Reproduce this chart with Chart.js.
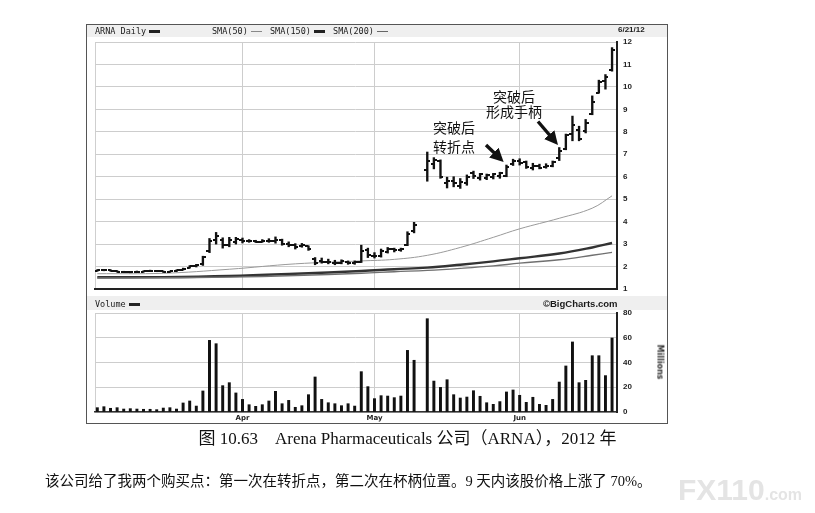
<!DOCTYPE html>
<html><head><meta charset="utf-8">
<script src="https://cdn.jsdelivr.net/npm/chart.js@4.4.1/dist/chart.umd.min.js"></script>
<style>
html,body{margin:0;padding:0;background:#fff;}
#wrap{position:relative;width:815px;height:513px;overflow:hidden;}
canvas{position:absolute;left:0;top:0;}
.t{position:absolute;white-space:nowrap;color:#1a1a1a;line-height:1;}
.mono{font-family:"DejaVu Sans Mono",monospace;font-size:8.5px;}
.dash{display:inline-block;width:11px;vertical-align:middle;background:#222;margin:0 3px;}
.ann{font-family:"Noto Sans CJK SC",sans-serif;font-size:14px;color:#111;}
</style></head><body>
<div id="wrap">
  <div style="position:absolute;left:86px;top:24px;width:580px;height:398px;border:1px solid #555;"></div>
  <div style="position:absolute;left:87px;top:25px;width:580px;height:12px;background:#efefef;"></div>
  <div style="position:absolute;left:87px;top:296px;width:580px;height:14px;background:#efefef;"></div>
  <div style="position:absolute;left:95px;top:42px;width:0;height:247px;border-left:1px solid #cfcfcf;"></div>
  <div style="position:absolute;left:95px;top:313px;width:0;height:99px;border-left:1px solid #cfcfcf;"></div>
  <canvas id="price" width="815" height="513"></canvas>
  <canvas id="vol" width="815" height="513"></canvas>

  <div class="t mono" style="left:95px;top:27px;">ARNA Daily<span class="dash" style="height:2.5px"></span></div>
  <div class="t mono" style="left:212px;top:27px;">SMA(50)<span class="dash" style="height:1px;background:#888"></span> SMA(150)<span class="dash" style="height:2.5px"></span> SMA(200)<span class="dash" style="height:1.5px;background:#666"></span></div>
  <div class="t" style="left:618px;top:26px;font-family:'Liberation Sans',sans-serif;font-weight:bold;font-size:8px;">6/21/12</div>
  <div class="t mono" style="left:95px;top:300px;">Volume<span class="dash" style="height:2.5px"></span></div>
  <div class="t" style="left:543px;top:299px;font-family:'Liberation Sans',sans-serif;font-weight:bold;font-size:9.5px;">©BigCharts.com</div>
  <div class="t" style="left:642px;top:358px;font-family:'DejaVu Sans',sans-serif;font-weight:bold;font-size:8px;color:#333;transform:rotate(90deg);">Millions</div>

  <div class="t ann" style="left:433px;top:120px;">突破后</div>
  <div class="t ann" style="left:433px;top:139px;">转折点</div>
  <div class="t ann" style="left:493px;top:89px;">突破后</div>
  <div class="t ann" style="left:486px;top:104px;">形成手柄</div>
  <svg style="position:absolute;left:0;top:0" width="815" height="513">
    <defs><marker id="ah" markerWidth="4" markerHeight="4" refX="1.5" refY="2" orient="auto" markerUnits="strokeWidth"><path d="M0,0 L4,2 L0,4 z" fill="#111"/></marker></defs>
    <line x1="486" y1="145" x2="497.5" y2="156" stroke="#111" stroke-width="3.4" marker-end="url(#ah)"/>
    <line x1="538" y1="121.5" x2="552.5" y2="138.5" stroke="#111" stroke-width="3.4" marker-end="url(#ah)"/>
  </svg>

  <div class="t" style="left:0;width:815px;text-align:center;top:430px;font-family:'Liberation Serif','Noto Sans CJK SC',serif;font-size:17px;color:#111;">图 10.63&nbsp;&nbsp;&nbsp;&nbsp;Arena Pharmaceuticals 公司（ARNA），2012 年</div>
  <div class="t" style="left:45px;top:474px;font-family:'Liberation Serif','Noto Sans CJK SC',serif;font-size:14.5px;color:#111;">该公司给了我两个购买点：第一次在转折点，第二次在杯柄位置。9 天内该股价格上涨了 70%。</div>
  <div class="t" style="left:678px;top:475px;font-family:'Liberation Sans',sans-serif;font-weight:bold;color:#e4e4e4;"><span style="font-size:30px;">FX110</span><span style="font-size:16px;">.com</span></div>
</div>
<script>
// ---- data (trading-day index 0 = 1 Mar 2012 ... 78 = 21 Jun 2012) ----
const monthLabels   = ['Apr', 'May', 'Jun'];
const monthStartIdx = [22, 42, 64];
const priceTicks = [1,2,3,4,5,6,7,8,9,10,11,12];
const volumeTicks = [0,20,40,60,80];

const highs = [1.86,1.87,1.86,1.82,1.79,1.78,1.80,1.81,1.84,1.83,
               1.80,1.80,1.85,1.93,2.04,2.10,2.46,3.25,3.52,3.28,
               3.30,3.30,3.27,3.20,3.17,3.20,3.24,3.32,3.22,3.10,
               3.02,3.03,2.92,2.40,2.38,2.33,2.28,2.30,2.25,2.25,
               2.95,2.82,2.62,2.78,2.85,2.82,2.82,3.55,3.97,null,
               7.10,6.85,6.75,5.98,6.00,5.92,6.08,6.25,6.15,6.12,
               6.15,6.20,6.52,6.78,6.80,6.70,6.60,6.56,6.58,6.70,
               7.30,7.90,8.70,8.25,8.55,9.60,10.30,10.55,11.75];
const lows  = [1.79,1.81,1.79,1.75,1.73,1.72,1.74,1.75,1.78,1.77,
               1.74,1.74,1.77,1.84,1.93,1.98,2.05,2.62,3.00,2.82,
               2.88,3.00,3.05,3.08,3.07,3.08,3.08,3.04,2.95,2.88,
               2.78,2.86,2.72,2.08,2.15,2.12,2.08,2.12,2.10,2.10,
               2.18,2.40,2.38,2.42,2.60,2.65,2.68,2.93,3.50,null,
               5.80,6.35,5.93,5.50,5.55,5.48,5.62,5.92,5.85,5.87,
               5.90,5.93,6.00,6.50,6.52,6.37,6.30,6.35,6.38,6.44,
               6.72,7.20,7.60,7.60,7.95,8.76,9.72,9.90,10.70];
const opens = [1.82,1.83,1.84,1.80,1.77,1.75,1.76,1.77,1.79,1.82,
               1.79,1.77,1.78,1.85,1.94,2.02,2.10,2.70,3.20,3.20,
               2.95,3.10,3.20,3.15,3.12,3.10,3.15,3.12,3.18,3.00,
               2.96,2.90,2.90,2.35,2.25,2.20,2.15,2.16,2.20,2.15,
               2.22,2.75,2.45,2.48,2.65,2.80,2.72,2.95,3.60,null,
               6.30,6.55,6.70,5.70,5.80,5.58,5.70,6.15,5.95,5.95,
               6.00,6.05,6.05,6.55,6.72,6.65,6.40,6.50,6.42,6.48,
               6.85,7.25,7.90,8.10,8.05,8.80,9.75,10.25,10.75];
const closes= [1.83,1.85,1.81,1.77,1.75,1.76,1.77,1.79,1.82,1.79,
               1.77,1.78,1.83,1.91,2.02,2.07,2.42,3.15,3.35,2.95,
               3.20,3.22,3.15,3.12,3.10,3.15,3.12,3.20,3.00,2.95,
               2.85,2.95,2.78,2.15,2.22,2.22,2.18,2.25,2.16,2.20,
               2.70,2.50,2.48,2.70,2.78,2.72,2.78,3.45,3.85,null,
               6.70,6.75,6.00,5.80,5.70,5.75,6.00,6.05,6.10,6.08,
               6.12,6.17,6.45,6.72,6.60,6.42,6.50,6.40,6.50,6.65,
               7.15,7.85,8.30,7.70,8.40,9.35,10.20,10.45,11.65];
const volumes = [3.5,4.3,3.0,3.5,2.4,2.7,2.4,2.2,2.2,1.9,
                 3.2,3.5,2.4,7.3,8.9,4.8,17,57.9,55.2,21.3,
                 23.7,15.4,10.2,5.9,4.6,5.9,8.9,16.7,6.7,9.4,
                 3.8,5.1,14,28.3,10.2,7.5,6.7,5.1,6.7,4.8,
                 32.6,20.5,10.8,13.2,12.9,11.6,12.9,49.8,41.8,null,
                 75.4,25,19.9,26.1,14,11.3,12.1,17.2,12.7,7.5,
                 6.2,8.4,16.2,17.8,13.5,7.8,11.9,6.2,5.4,10.2,
                 24.2,37.2,56.6,23.7,25.6,45.5,45.5,29.4,59.8];
// moving averages read at selected days
const smaIdx  = [0,10,20,30,40,45,50,55,60,64,70,75,78];
const sma50   = [1.68,1.70,1.88,2.12,2.25,2.32,2.50,2.85,3.30,3.68,4.15,4.60,5.15];
const sma150  = [1.52,1.53,1.58,1.68,1.80,1.88,1.95,2.08,2.23,2.37,2.58,2.85,3.05];
const sma200  = [1.49,1.50,1.53,1.60,1.70,1.77,1.83,1.92,2.03,2.15,2.30,2.50,2.63];

// ---- build ----
function tickImg(side){
  const c=document.createElement('canvas'); c.width=6; c.height=2;
  const g=c.getContext('2d'); g.fillStyle='#111';
  g.fillRect(side<0?0:3,0,3,2); return c;
}
const pts = (arr)=>arr.map((v,i)=>v==null?null:{x:i,y:v}).filter(Boolean);
const ohlc = highs.map((h,i)=>h==null?null:{x:i,y:[lows[i],h]}).filter(Boolean);
const smaPts = (vals)=>smaIdx.map((x,k)=>({x, y:vals[k]}));
const gridC = '#cdcdcd';
const xCommon = {
  type:'linear', min:-0.35, max:78.75, offset:false,
  grid:{offset:false,color:gridC,drawTicks:false,lineWidth:1},
  afterBuildTicks:(s)=>{ s.ticks = monthStartIdx.map(v=>({value:v})); }
};
const baseOpts = {responsive:false, animation:false, devicePixelRatio:1,
  plugins:{legend:{display:false},tooltip:{enabled:false}}};

new Chart(document.getElementById('price'), {
  type:'bar',
  data:{datasets:[
    {type:'bar', data:ohlc, backgroundColor:'#111', barThickness:1.7, borderWidth:0},
    {type:'scatter', data:pts(opens), pointStyle:tickImg(-1), pointRadius:3},
    {type:'scatter', data:pts(closes), pointStyle:tickImg(1), pointRadius:3},
    {type:'line', data:smaPts(sma50), borderColor:'#9a9a9a', borderWidth:1, pointRadius:0, tension:0.4},
    {type:'line', data:smaPts(sma200), borderColor:'#707070', borderWidth:1.4, pointRadius:0, tension:0.4},
    {type:'line', data:smaPts(sma150), borderColor:'#333', borderWidth:2.4, pointRadius:0, tension:0.4}
  ]},
  options:Object.assign({}, baseOpts, {
    layout:{padding:{left:95, top:42, right:165, bottom:224}},
    scales:{
      x:Object.assign({}, xCommon, {ticks:{display:false}, border:{display:true,color:'#222',width:2},
         afterFit:(s)=>{ s.height=0; }}),
      y:{type:'linear', position:'right', min:1, max:12,
         afterBuildTicks:(s)=>{ s.ticks = priceTicks.map(v=>({value:v})); },
         ticks:{color:'#222', padding:6, font:{family:'Liberation Sans', size:8, weight:'bold'}},
         grid:{color:gridC, drawTicks:false}, border:{color:'#222', width:2},
         afterFit:(s)=>{ s.width=33; }}
    }
  })
});

new Chart(document.getElementById('vol'), {
  type:'bar',
  data:{datasets:[
    {type:'bar', data:pts(volumes), backgroundColor:'#111', barThickness:2.3, borderWidth:0}
  ]},
  options:Object.assign({}, baseOpts, {
    layout:{padding:{left:95, top:313, right:165, bottom:89}},
    scales:{
      x:Object.assign({}, xCommon, {
        ticks:{display:true, padding:2, maxRotation:0, autoSkip:false, color:'#222',
               font:{family:'DejaVu Sans', size:7, weight:'bold'},
               callback:(v,i)=>monthLabels[i]},
        border:{display:true,color:'#333',width:1.5},
        afterFit:(s)=>{ s.height=12; }}),
      y:{type:'linear', position:'right', min:0, max:80,
         afterBuildTicks:(s)=>{ s.ticks = volumeTicks.map(v=>({value:v})); },
         ticks:{color:'#222', padding:6, font:{family:'Liberation Sans', size:8, weight:'bold'}},
         grid:{color:gridC, drawTicks:false}, border:{color:'#222', width:2},
         afterFit:(s)=>{ s.width=33; }}
    }
  })
});
</script>
</body></html>
